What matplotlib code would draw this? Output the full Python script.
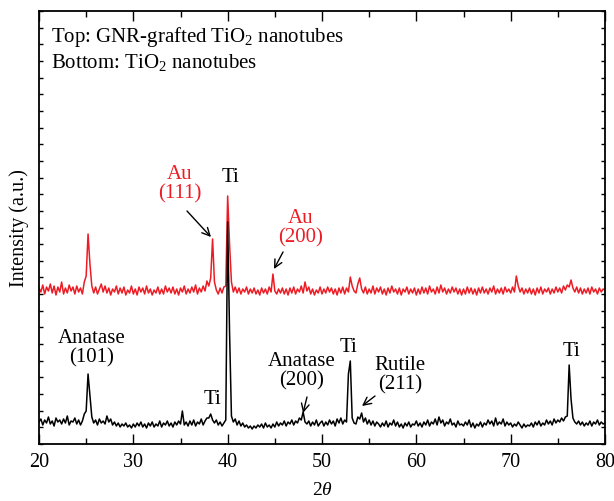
import numpy as np
import matplotlib
matplotlib.use("Agg")
import matplotlib.pyplot as plt
from matplotlib.ticker import MultipleLocator, FixedLocator

plt.rcParams['font.family'] = ['Liberation Serif', 'DejaVu Serif']
plt.rcParams['mathtext.fontset'] = 'custom'
plt.rcParams['mathtext.rm'] = 'Liberation Serif'
plt.rcParams['mathtext.it'] = 'Liberation Serif:italic'

# 2theta grid, 0.2 degree step from 20 to 80
two_theta = np.round(np.arange(20.0, 80.0001, 0.2), 1)

# Bottom pattern: TiO2 nanotubes (each row = one degree: x.0, x.2, x.4, x.6, x.8)
bottom_intensity = [
    22, 25, 19, 24, 21,   # 20
    27, 20, 23, 18, 26,   # 21
    22, 24, 20, 25, 21,   # 22
    28, 19, 23, 22, 26,   # 23
    20, 24, 19, 23, 30,   # 24
    33, 70, 48, 27, 21,   # 25
    24, 19, 25, 21, 23,   # 26
    20, 28, 22, 25, 19,   # 27
    22, 18, 21, 17, 20,   # 28
    18, 21, 17, 19, 16,   # 29
    20, 17, 21, 18, 22,   # 30
    17, 20, 16, 21, 18,   # 31
    22, 17, 20, 18, 23,   # 32
    17, 21, 19, 23, 18,   # 33
    21, 17, 22, 19, 23,   # 34
    20, 33, 19, 22, 18,   # 35
    23, 19, 24, 18, 22,   # 36
    20, 25, 19, 23, 26,   # 37
    26, 30, 24, 21, 24,   # 38
    19, 22, 18, 21, 24,   # 39
    222, 112, 28, 22, 25,  # 40
    19, 23, 18, 21, 17,   # 41
    19, 16, 18, 15, 18,   # 42
    16, 19, 17, 20, 16,   # 43
    21, 17, 19, 16, 20,   # 44
    17, 22, 18, 21, 19,   # 45
    23, 18, 22, 20, 24,   # 46
    19, 23, 21, 26, 24,   # 47
    32, 22, 20, 23, 18,   # 48
    22, 19, 24, 18, 21,   # 49
    23, 18, 22, 19, 24,   # 50
    20, 23, 18, 25, 21,   # 51
    26, 20, 24, 22, 70,   # 52
    83, 26, 21, 20, 27,   # 53
    25, 31, 22, 26, 20,   # 54
    24, 19, 23, 18, 22,   # 55
    20, 17, 21, 18, 23,   # 56
    17, 21, 19, 24, 18,   # 57
    22, 17, 20, 16, 21,   # 58
    18, 22, 17, 20, 19,   # 59
    23, 18, 21, 17, 22,   # 60
    19, 24, 18, 22, 20,   # 61
    25, 19, 27, 21, 24,   # 62
    18, 22, 20, 25, 19,   # 63
    21, 17, 23, 19, 20,   # 64
    18, 22, 19, 24, 17,   # 65
    21, 16, 20, 18, 22,   # 66
    17, 21, 19, 24, 20,   # 67
    23, 18, 26, 19, 22,   # 68
    20, 25, 18, 22, 19,   # 69
    21, 17, 20, 18, 22,   # 70
    19, 16, 20, 17, 19,   # 71
    18, 21, 17, 22, 19,   # 72
    23, 18, 21, 19, 24,   # 73
    20, 23, 19, 25, 21,   # 74
    24, 22, 26, 23, 27,   # 75
    28, 79, 45, 26, 22,   # 76
    20, 23, 19, 22, 18,   # 77
    21, 19, 23, 18, 22,   # 78
    20, 24, 19, 22, 20,   # 79
    21,                   # 80
]

# Top pattern: GNR-grafted TiO2 nanotubes
top_intensity = [
    156, 152, 159, 150, 157,  # 20
    153, 160, 151, 158, 149,  # 21
    157, 152, 162, 150, 156,  # 22
    151, 159, 153, 157, 150,  # 23
    158, 152, 156, 150, 162,  # 24
    168, 210, 180, 158, 151,  # 25
    157, 150, 155, 160, 152,  # 26
    158, 151, 156, 149, 155,  # 27
    152, 158, 150, 156, 151,  # 28
    157, 149, 154, 151, 158,  # 29
    150, 155, 149, 157, 152,  # 30
    156, 150, 158, 151, 155,  # 31
    149, 154, 151, 157, 150,  # 32
    155, 150, 158, 152, 156,  # 33
    151, 157, 150, 155, 149,  # 34
    156, 152, 158, 150, 155,  # 35
    151, 157, 152, 159, 150,  # 36
    156, 152, 158, 153, 163,  # 37
    158, 166, 205, 162, 154,  # 38
    150, 156, 151, 157, 158,  # 39
    248, 200, 162, 152, 157,  # 40
    151, 156, 150, 155, 152,  # 41
    157, 150, 155, 151, 156,  # 42
    150, 154, 149, 156, 151,  # 43
    155, 150, 157, 152, 170,  # 44
    153, 150, 155, 151, 156,  # 45
    150, 155, 149, 156, 151,  # 46
    157, 150, 155, 152, 158,  # 47
    151, 162, 153, 157, 150,  # 48
    155, 149, 154, 151, 157,  # 49
    150, 155, 151, 157, 152,  # 50
    156, 150, 155, 149, 156,  # 51
    151, 157, 150, 156, 152,  # 52
    167, 158, 153, 151, 160,  # 53
    166, 155, 151, 157, 150,  # 54
    155, 151, 158, 150, 156,  # 55
    152, 157, 150, 155, 149,  # 56
    156, 151, 158, 152, 155,  # 57
    150, 156, 149, 155, 152,  # 58
    157, 150, 155, 151, 156,  # 59
    149, 155, 150, 157, 151,  # 60
    156, 150, 158, 152, 155,  # 61
    150, 157, 151, 159, 152,  # 62
    156, 150, 155, 151, 157,  # 63
    152, 156, 150, 155, 149,  # 64
    155, 150, 157, 151, 156,  # 65
    150, 155, 149, 156, 151,  # 66
    157, 151, 155, 150, 156,  # 67
    152, 158, 150, 155, 151,  # 68
    156, 150, 157, 152, 155,  # 69
    151, 157, 152, 168, 158,  # 70
    152, 156, 150, 155, 151,  # 71
    156, 150, 155, 149, 156,  # 72
    151, 157, 150, 155, 152,  # 73
    156, 150, 155, 151, 157,  # 74
    152, 156, 151, 158, 154,  # 75
    159, 157, 164, 156, 152,  # 76
    157, 151, 156, 150, 155,  # 77
    151, 156, 150, 157, 152,  # 78
    155, 150, 156, 152, 155,  # 79
    154,                      # 80
]

RED = '#ed1c24'

fig = plt.figure(figsize=(6.14, 5.02), dpi=100)
ax = fig.add_axes([39/614, 57/502, 566/614, 433/502])

ax.plot(two_theta, top_intensity, color=RED, lw=1.1, zorder=2)
ax.plot(two_theta, bottom_intensity, color='black', lw=1.1, zorder=3)

ax.set_xlim(20, 80)
ax.set_ylim(0, 433)
ax.xaxis.set_major_locator(MultipleLocator(10))
ax.xaxis.set_minor_locator(MultipleLocator(5))
ax.yaxis.set_major_locator(FixedLocator(np.linspace(0, 433, 27)))
ax.set_yticklabels([])
ax.tick_params(axis='both', which='both', direction='in', top=True, right=True)
ax.tick_params(axis='x', which='major', length=7, width=1, labelsize=14.5, pad=6)
ax.tick_params(axis='x', which='minor', length=4, width=1)
ax.tick_params(axis='y', which='major', length=3, width=1)
for s in ax.spines.values():
    s.set_linewidth(1.3)

ax.set_ylabel('Intensity (a.u.)', fontsize=14.5, labelpad=4)
ax.set_xlabel(r'$\mathit{2\theta}$', fontsize=14, labelpad=7)

fs = 15
ax.text(0.021, 0.931, r'Top: GNR-grafted TiO$_2$ nanotubes', transform=ax.transAxes,
        fontsize=fs, ha='left', va='baseline')
ax.text(0.021, 0.871, r'Bottom: TiO$_2$ nanotubes', transform=ax.transAxes,
        fontsize=fs, ha='left', va='baseline')

arrow = dict(arrowstyle='->', lw=1.0, color='black', mutation_scale=14, shrinkA=0, shrinkB=0)

ax.text(34.95, 261, 'Au\n(111)', color=RED, fontsize=fs, ha='center', va='center', linespacing=1.05)
ax.annotate('', xy=(38.23, 207), xytext=(35.69, 233), arrowprops=arrow)
ax.text(40.25, 267, 'Ti', fontsize=fs, ha='center', va='center')
ax.text(47.77, 217, 'Au\n(200)', color=RED, fontsize=fs, ha='center', va='center', linespacing=1.05)
ax.annotate('', xy=(44.91, 175), xytext=(45.87, 192), arrowprops=arrow)

ax.text(25.62, 97, 'Anatase\n(101)', fontsize=fs, ha='center', va='center', linespacing=1.05)
ax.text(38.34, 45, 'Ti', fontsize=fs, ha='center', va='center')
ax.text(47.88, 74, 'Anatase\n(200)', fontsize=fs, ha='center', va='center', linespacing=1.05)
ax.annotate('', xy=(47.99, 31), xytext=(48.41, 47), arrowprops=arrow)
ax.text(52.86, 98, 'Ti', fontsize=fs, ha='center', va='center')
ax.text(58.27, 70, 'Rutile\n(211)', fontsize=fs, ha='center', va='center', linespacing=1.05)
ax.annotate('', xy=(54.24, 38), xytext=(55.62, 48), arrowprops=arrow)
ax.text(76.50, 93, 'Ti', fontsize=fs, ha='center', va='center')

fig.savefig('out.png', dpi=100)
